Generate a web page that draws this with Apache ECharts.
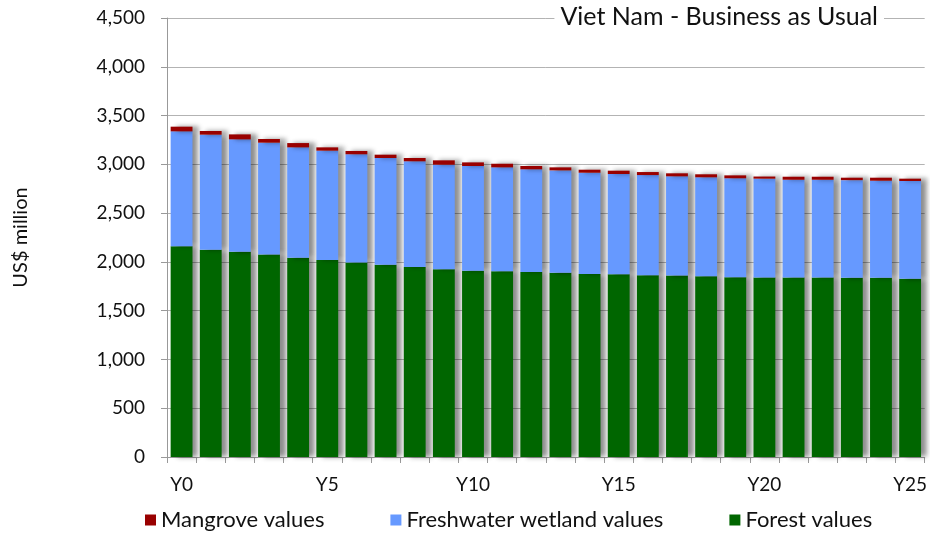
<!DOCTYPE html>
<html>
<head>
<meta charset="utf-8">
<script src="https://cdn.jsdelivr.net/npm/echarts@6/dist/echarts.min.js"></script>
<style>
  html, body { margin: 0; padding: 0; background: #fff; }
  #myChart { width: 930px; height: 537px; }
</style>
</head>
<body>
<div id="myChart"></div>
<script>
var years = [];
for (var i = 0; i <= 25; i++) {
	years.push('Y' + i);
}
var forestValues = [2160, 2125, 2105, 2077, 2043, 2019, 1995, 1971, 1947, 1924, 1910, 1905, 1896,
	1889, 1876, 1874, 1862, 1860, 1852, 1842, 1840, 1840, 1840, 1838, 1838, 1828];
var wetlandValues = [1178, 1179, 1151, 1145, 1131, 1121, 1108, 1094, 1084, 1072, 1073, 1064, 1053,
	1049, 1038, 1027, 1028, 1017, 1015, 1015, 1013, 1002, 1002, 1000, 994, 1001];
var mangroveValues = [48, 38, 51, 38, 44, 34, 34, 34, 34, 45, 37, 37, 34,
	31, 31, 34, 31, 31, 31, 30, 22, 31, 31, 25, 31, 24];
var yTicks = [0, 500, 1000, 1500, 2000, 2500, 3000, 3500, 4000, 4500];

window.onload = function () {
	'use strict';

	var font = 'Lato, "Noto Sans", sans-serif';
	var shadow = {
		shadowColor: 'rgba(0,0,0,0.45)',
		shadowBlur: 5,
		shadowOffsetX: 6,
		shadowOffsetY: 0
	};

	function barSeries(name, color, data) {
		return {
			name: name,
			type: 'bar',
			stack: 'total',
			barCategoryGap: '25%',
			itemStyle: Object.assign({color: color}, shadow),
			data: data,
			animation: false
		};
	}

	var option = {
		backgroundColor: '#fff',
		textStyle: {fontFamily: font},
		title: {
			text: 'Viet Nam - Business as Usual',
			right: 46,
			top: 2,
			padding: [2, 6],
			backgroundColor: '#fff',
			textStyle: {fontFamily: font, fontSize: 25, fontWeight: 'normal', color: '#111'}
		},
		legend: {
			left: 140,
			bottom: 1,
			itemWidth: 11,
			itemHeight: 11,
			itemGap: 66,
			icon: 'rect',
			data: ['Mangrove values', 'Freshwater wetland values', 'Forest values'],
			textStyle: {fontFamily: font, fontSize: 22, color: '#111'}
		},
		grid: {
			left: 167,
			right: 2,
			top: 18,
			bottom: 80,
			containLabel: false
		},
		xAxis: {
			type: 'category',
			data: years,
			boundaryGap: true,
			axisLine: {lineStyle: {color: '#999', width: 1}},
			axisTick: {show: true, interval: 0, length: 6, lineStyle: {color: '#999'}},
			axisLabel: {
				interval: 4,
				margin: 18,
				fontFamily: font,
				fontSize: 19,
				color: '#111'
			}
		},
		yAxis: {
			type: 'value',
			min: yTicks[0],
			max: yTicks[yTicks.length - 1],
			interval: 500,
			name: 'US$ million',
			nameLocation: 'middle',
			nameGap: 136,
			nameTextStyle: {fontFamily: font, fontSize: 20, color: '#111'},
			axisLine: {show: true, lineStyle: {color: '#999'}},
			axisTick: {show: true, length: 6, lineStyle: {color: '#999'}},
			axisLabel: {
				margin: 22,
				fontFamily: font,
				fontSize: 19,
				color: '#111',
				formatter: function (v) {
					return v.toLocaleString('en-US');
				}
			},
			splitLine: {show: true, lineStyle: {color: '#b3b3b3', width: 1}}
		},
		series: [
			barSeries('Forest values', '#006600', forestValues),
			barSeries('Freshwater wetland values', '#6699ff', wetlandValues),
			barSeries('Mangrove values', '#990000', mangroveValues)
		]
	};

	var myChart = echarts.init(document.getElementById('myChart'));
	myChart.setOption(option);
};
</script>
</body>
</html>
